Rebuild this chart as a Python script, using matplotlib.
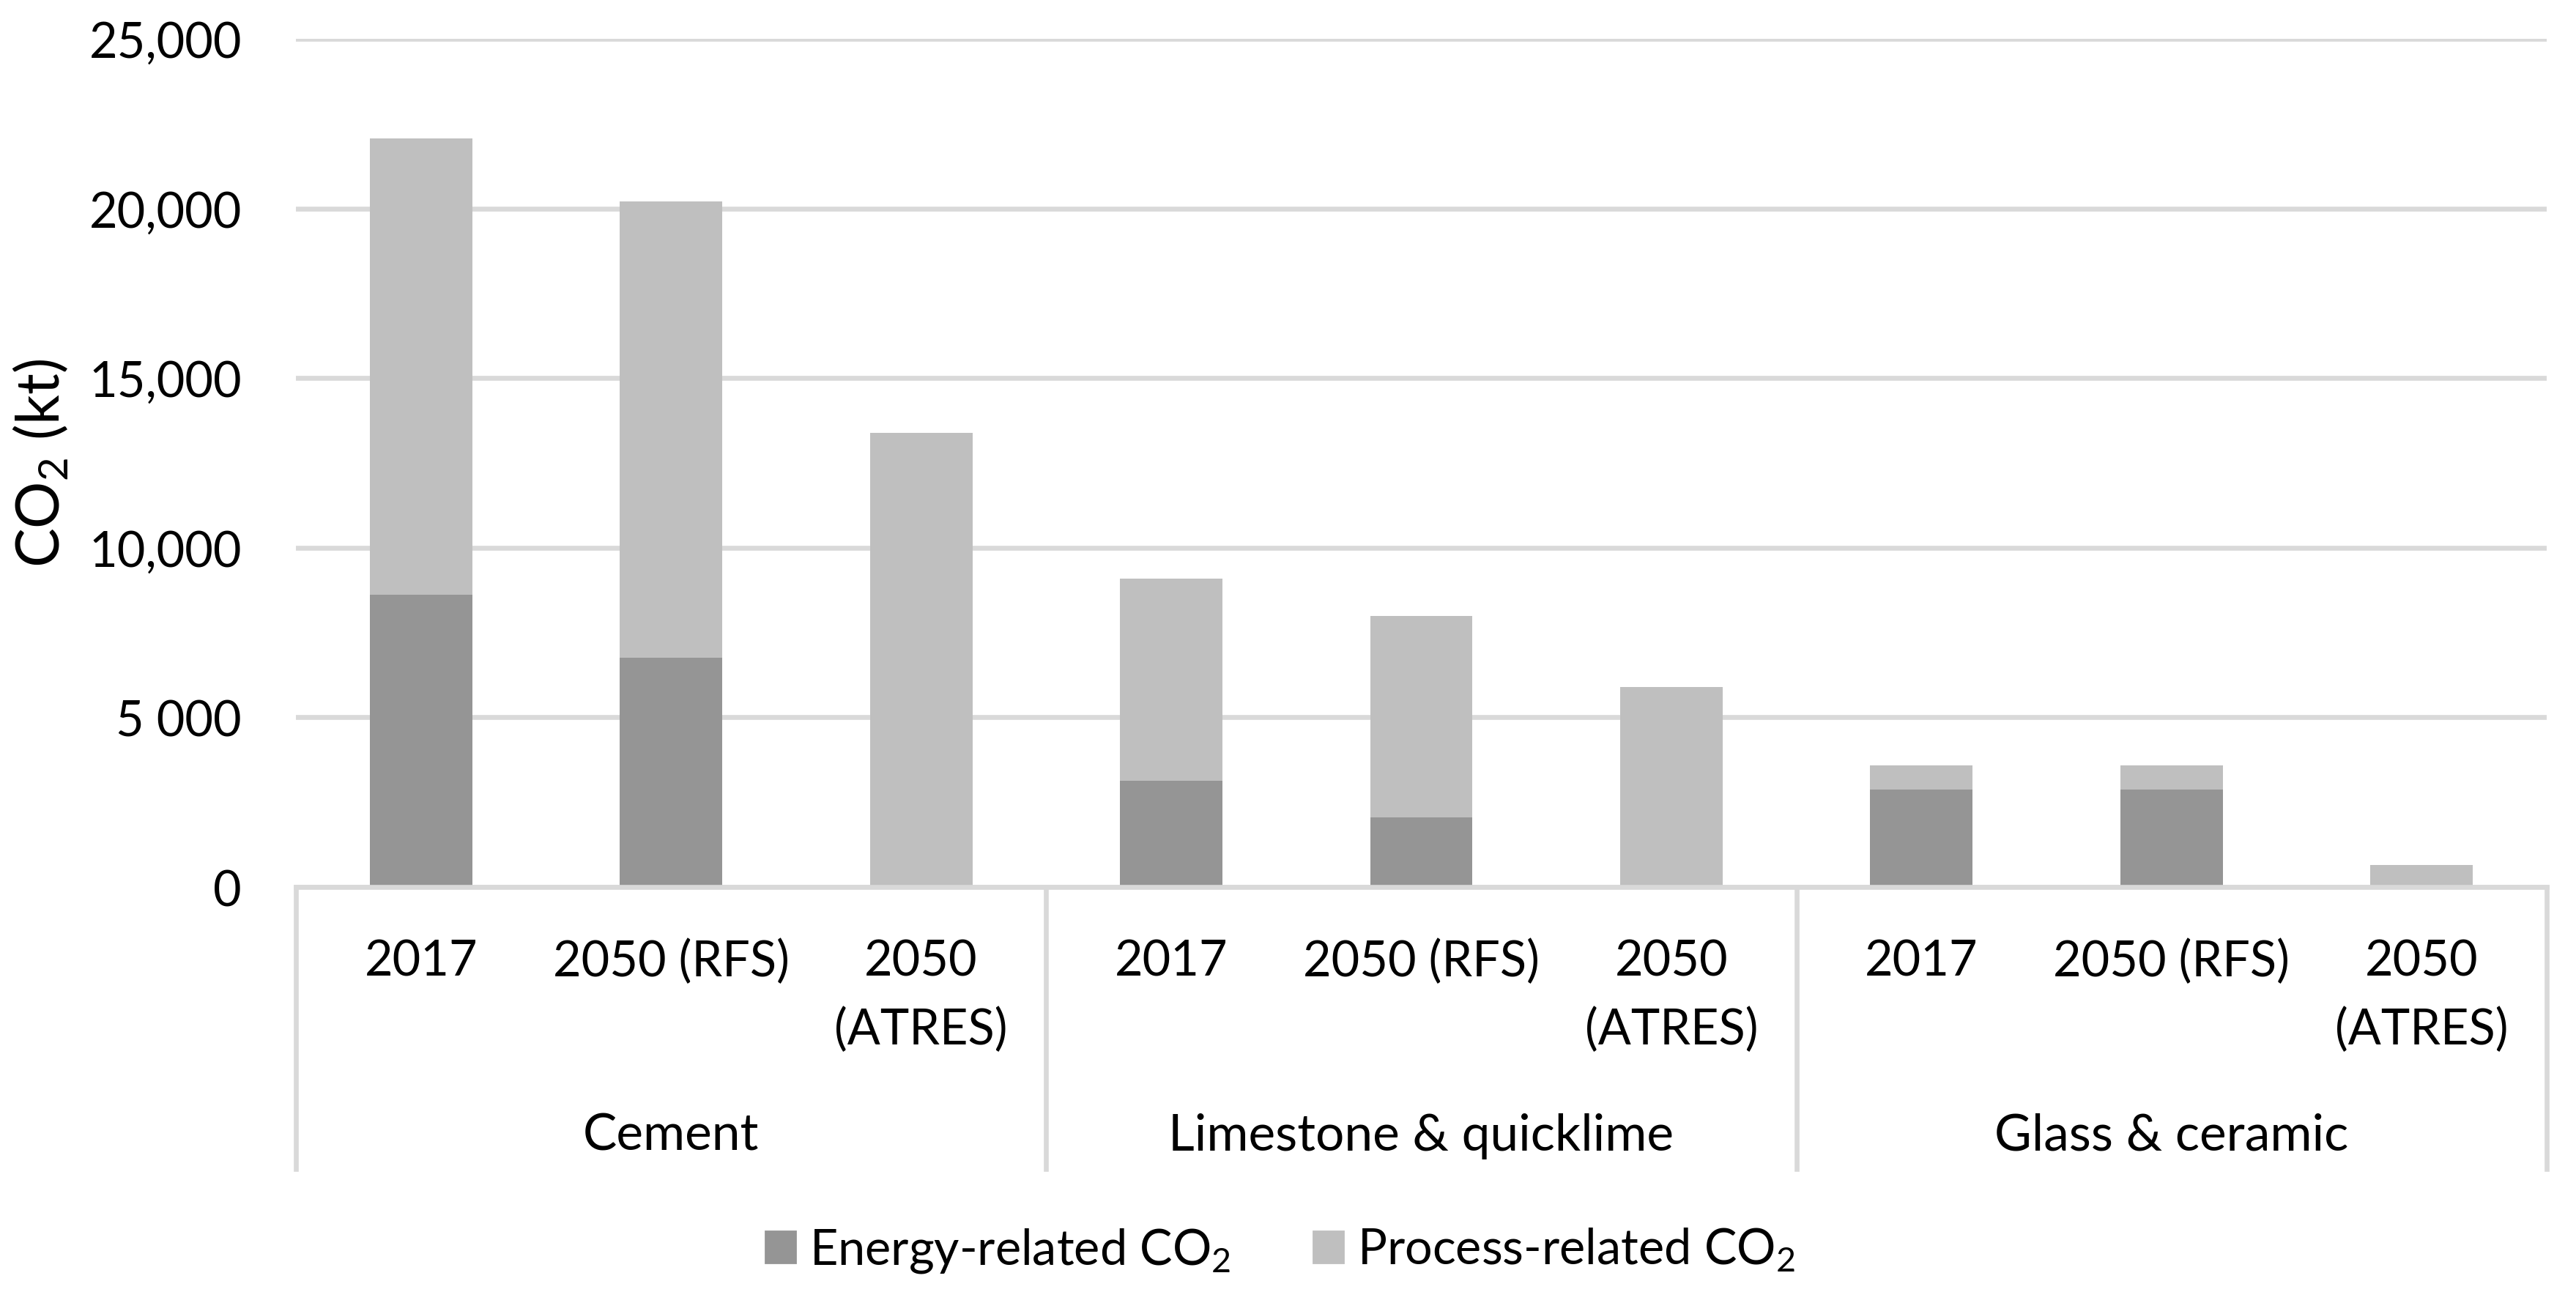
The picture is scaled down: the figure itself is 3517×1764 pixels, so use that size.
import numpy as np
import matplotlib.pyplot as plt
import matplotlib.transforms as mtransforms
from matplotlib.patches import Patch

# data (kt CO2)
sectors = ['Cement', 'Limestone & quicklime', 'Glass & ceramic']
scenarios = ['2017', '2050 (RFS)', '2050\n(ATRES)']
energy_co2 = [8610, 6760, 0, 3130, 2050, 0, 2870, 2870, 0]
process_co2 = [13450, 13440, 13390, 5960, 5940, 5890, 710, 710, 650]
y_ticks = [0, 5000, 10000, 15000, 20000, 25000]
y_tick_labels = ['0', '5 000', '10,000', '15,000', '20,000', '25,000']

plt.rcParams['font.family'] = ['Lato', 'DejaVu Sans']
plt.rcParams['mathtext.fontset'] = 'custom'
plt.rcParams['mathtext.rm'] = 'Lato'
plt.rcParams['mathtext.it'] = 'Lato:italic'
plt.rcParams['mathtext.bf'] = 'Lato:bold'

W, H = 3517, 1765
DPI = 200
fs = 24
c_energy = '#959595'
c_process = '#bfbfbf'
c_grid = '#d9d9d9'

fig = plt.figure(figsize=(W / DPI, H / DPI), dpi=DPI)
ax = fig.add_axes([404 / W, 1 - 1212 / H, (3477 - 404) / W, (1212 - 54) / H])

x = np.arange(len(energy_co2))
ax.bar(x, energy_co2, 0.41, color=c_energy, zorder=3)
ax.bar(x, process_co2, 0.41, bottom=energy_co2, color=c_process, zorder=3)

ax.set_xlim(-0.5, len(x) - 0.5)
ax.set_ylim(0, 25000)
ax.set_yticks(y_ticks)
ax.set_yticklabels(y_tick_labels)
ax.yaxis.grid(True, color=c_grid, linewidth=2.4)
ax.set_axisbelow(True)
for s in ['top', 'right', 'left']:
    ax.spines[s].set_visible(False)
ax.spines['bottom'].set_color(c_grid)
ax.spines['bottom'].set_linewidth(2.4)
ax.spines['bottom'].set_zorder(4)
ax.tick_params(axis='x', bottom=False, labelbottom=False)
ax.tick_params(axis='y', length=0, pad=26.6, labelsize=fs)

# two-level category axis below the plot
trans = mtransforms.blended_transform_factory(ax.transData, fig.transFigure)
n = len(scenarios)
for k in range(len(sectors) + 1):
    xs = k * n - 0.5
    ax.plot([xs, xs], [1 - 1212 / H, 1 - 1597 / H], color=c_grid, lw=2.4,
            transform=trans, clip_on=False)

for i in range(len(x)):
    lines = scenarios[i % n].split('\n')
    for j, line in enumerate(lines):
        base = 1333 + j * 93
        ax.text(i, 1 - base / H, line, transform=trans, ha='center',
                va='baseline', fontsize=fs)

for k, name in enumerate(sectors):
    ax.text(k * n + (n - 1) / 2, 1 - 1571 / H, name, transform=trans,
            ha='center', va='baseline', fontsize=25)

fig.text(56 / W, 1 - 632 / H, 'CO$_2$ (kt)', rotation=90, ha='center',
         va='center', fontsize=29)

handles = [Patch(color=c_energy), Patch(color=c_process)]
fig.legend(handles, ['Energy-related CO$_2$', 'Process-related CO$_2$'],
           loc='center', bbox_to_anchor=(1748 / W, 1 - 1708 / H), ncol=2,
           frameon=False, fontsize=fs, handlelength=0.61, handleheight=0.61,
           handletextpad=0.28, columnspacing=1.7)

fig.savefig('out.png', dpi=DPI)
